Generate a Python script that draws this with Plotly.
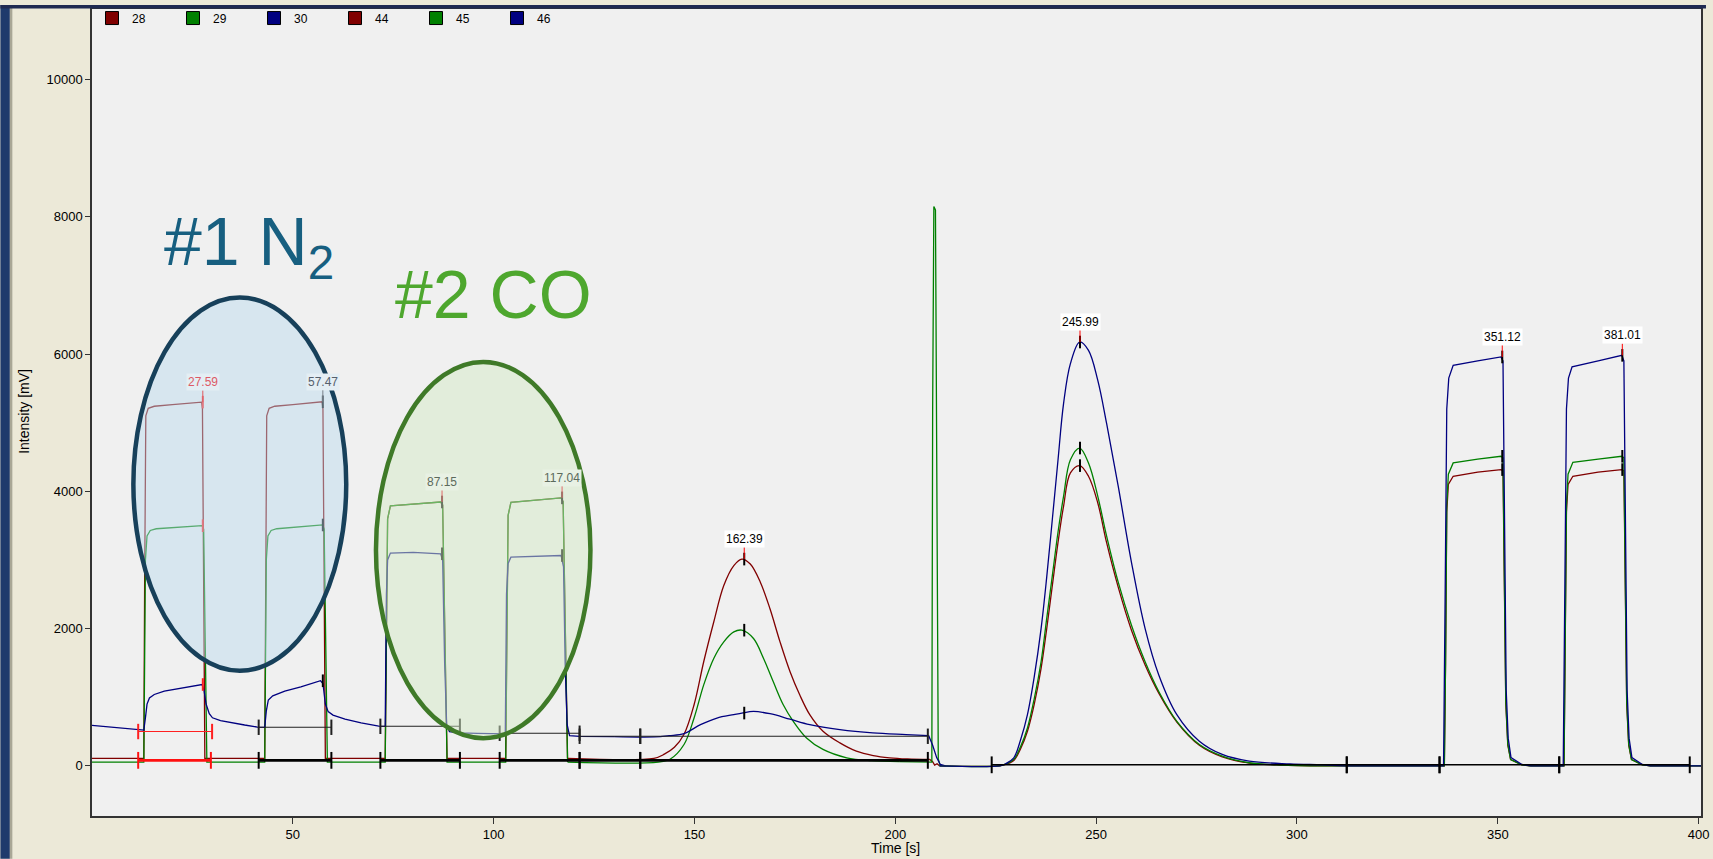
import plotly.graph_objects as go

# ---------------- data ----------------
# masses 28 / 29 / 30 (first part of the run)
t28 = [0, 12.9, 13.1, 13.4, 14.0, 15.5, 20, 27.3, 27.5, 27.8, 28.1, 43.0, 43.2, 43.5, 44.1, 45.5, 50,
       57.3, 57.5, 57.8, 58.1, 73.0, 73.3, 73.6, 74.3, 80, 86.8, 87.3, 87.8, 88.4, 103.0, 103.3, 103.6,
       104.3, 110, 116.8, 117.3, 117.8, 118.4, 139.9, 142.5, 145.0, 147.4, 149.9, 152.3, 154.8, 157.3,
       159.8, 161.8, 163.9, 166.4, 168.8, 171.3, 173.8, 176.2, 178.7, 182.0, 186.2, 190.3, 194.5, 198.6,
       203.0, 208.6, 209.3, 209.8, 210.4, 211.0]
v28 = [110, 110, 2600, 5100, 5210, 5240, 5265, 5300, 5200, 2000, 110, 110, 2600, 5100, 5210, 5240, 5265,
       5305, 5200, 2000, 110, 110, 2000, 3600, 3790, 3820, 3845, 3800, 2000, 110, 110, 2000, 3650,
       3840, 3870, 3905, 3850, 2000, 110, 110, 170, 270, 460, 890, 1517, 2096, 2628,
       2918, 3013, 2941, 2676, 2289, 1807, 1372, 1035, 746, 504, 334, 214, 150, 117,
       100, 92, 60, 10, 30, 0]

t29 = [0, 12.9, 13.1, 13.3, 13.7, 14.5, 16, 20, 27.4, 27.8, 28.2, 28.6, 43.0, 43.2, 43.4, 43.8, 44.6, 46,
       50, 57.4, 57.8, 58.2, 58.6, 73.0, 73.3, 73.6, 74.3, 80, 86.8, 87.3, 87.8, 88.4, 103.0, 103.3,
       103.6, 104.3, 110, 116.8, 117.3, 117.8, 118.4, 141.0, 144.0, 147.4, 149.9, 152.3, 154.8, 157.3,
       159.8, 161.8, 164.7, 167.2, 169.6, 172.1, 174.6, 177.9, 182.0, 187.9, 194.0, 201.0, 209.1, 209.3,
       209.6, 210.0, 210.3, 210.7, 211.2]
v29 = [55, 55, 1500, 3000, 3350, 3430, 3455, 3470, 3500, 3450, 1500, 55, 55, 1500, 3000, 3350, 3430, 3455,
       3475, 3510, 3450, 1500, 55, 55, 2000, 3600, 3790, 3820, 3845, 3800, 2000, 55, 55, 2000,
       3650, 3840, 3870, 3905, 3850, 2000, 55, 55, 100, 311, 697, 1180, 1565, 1807,
       1952, 1977, 1855, 1565, 1228, 890, 649, 407, 239, 117, 75, 60, 55, 5200,
       8150, 8100, 4500, 100, 0]

t30 = [0, 4, 8, 12.9, 13.3, 13.7, 14.3, 15.5, 18, 22, 27.4, 27.9, 28.4, 29.2, 30, 32, 35, 38, 41.2, 43.0,
       43.4, 43.9, 45, 48, 52, 56.9, 57.5, 58.1, 58.8, 60, 63, 67, 71.4, 73.0, 73.3, 73.6, 74.3, 80, 86.8,
       87.3, 87.8, 88.3, 89.0, 91.6, 96, 102.9, 103.2, 103.6, 104.3, 110, 116.8, 117.4, 117.8, 118.3, 118.9,
       121.4, 130, 140, 143.7, 147.4, 151.5, 155.6, 159.8, 161.8, 164.7, 168.8, 173.8, 178.7, 186.2, 194.4,
       202.7, 208.3, 209.3, 210.3, 211.2, 212.5]
v30 = [590, 565, 540, 520, 700, 900, 990, 1040, 1090, 1130, 1185, 1100, 900, 760, 700, 660, 625, 595, 565, 560,
       800, 960, 1020, 1090, 1150, 1240, 1200, 900, 790, 740, 680, 625, 580, 575, 2500, 3000, 3100, 3110, 3090,
       3000, 1500, 600, 500, 480, 472, 465, 2500, 2950, 3040, 3055, 3065, 2900, 1500, 600, 440,
       430, 425, 421, 440, 470, 601, 697, 746, 769, 793, 760, 680, 601, 528, 480,
       456, 441, 300, 120, 20, 0]

# masses 44 / 45 / 46 (second part of the run)
t44 = [211, 226.0, 227.5, 229.5, 231.2, 232.9, 234.6, 236.3, 237.7, 239.1, 240.5, 241.9, 243.6, 245.9, 248.1,
       250.4, 252.6, 255.5, 258.8, 262.2, 265.6, 270.1, 275.7, 281.4, 288.1, 295, 305, 336.7, 337.0, 337.3,
       337.7, 338.9, 345, 350.8, 351.3, 351.6, 352.0, 352.5, 353.2, 356, 358, 366.5, 366.8, 367.1, 367.5,
       368.7, 375, 380.9, 381.4, 381.7, 382.1, 382.6, 383.3, 386, 388, 400.6]
v44 = [0, 0, 20, 79, 250, 504, 900, 1421, 2000, 2628, 3250, 3786, 4268, 4375, 4220,
       3834, 3255, 2604, 1977, 1470, 1059, 639, 301, 132, 41, 15, 0, 0, 1500, 3700,
       4100, 4220, 4280, 4317, 4300, 2500, 900, 300, 90, 15, 0, 0, 1500, 3700, 4100,
       4220, 4280, 4317, 4300, 2500, 900, 300, 90, 15, 0, 0]

t45 = [211, 226.0, 227.5, 229.5, 231.2, 232.9, 234.6, 236.3, 237.7, 239.1, 240.5, 241.9, 243.6, 245.9, 248.1,
       250.4, 252.6, 255.5, 258.8, 262.2, 265.6, 270.1, 275.7, 281.4, 288.1, 295, 305, 336.7, 337.0, 337.3,
       337.7, 338.9, 345, 350.8, 351.3, 351.6, 352.0, 352.5, 353.2, 356, 358, 366.5, 366.8, 367.1, 367.5,
       368.7, 375, 380.9, 381.4, 381.7, 382.1, 382.6, 383.3, 386, 388, 400.6]
v45 = [0, 0, 25, 94, 280, 552, 980, 1517, 2150, 2773, 3400, 3931, 4461, 4631, 4414,
       3931, 3352, 2676, 2049, 1517, 1083, 649, 311, 142, 45, 15, 0, 0, 1500, 3800,
       4250, 4414, 4470, 4511, 4490, 2600, 950, 320, 90, 15, 0, 0, 1500, 3800, 4250,
       4424, 4470, 4511, 4490, 2600, 950, 320, 90, 15, 0, 0]

t46 = [211, 226.0, 227.5, 229.5, 231.2, 232.9, 234.6, 236.3, 237.7, 239.1, 240.5, 241.9, 243.6, 245.9, 248.1,
       250.4, 252.6, 255.5, 258.8, 262.2, 265.6, 270.1, 275.7, 281.4, 288.1, 298.3, 306.2, 312, 336.5, 336.9,
       337.3, 337.8, 338.9, 345, 350.8, 351.3, 351.7, 352.1, 352.6, 353.3, 356, 358.3, 366.3, 366.7, 367.1,
       367.6, 368.5, 375, 380.9, 381.4, 381.8, 382.2, 382.7, 383.4, 386, 388, 400.6]
v46 = [0, 0, 30, 117, 380, 746, 1300, 2000, 2750, 3593, 4450, 5282, 5861, 6176, 6054,
       5620, 4993, 4076, 2966, 2000, 1325, 746, 359, 166, 69, 28, 15, 0, 0, 2500,
       5200, 5650, 5837, 5900, 5958, 5900, 3000, 1100, 400, 120, 20, 0, 0, 2500, 5200,
       5650, 5815, 5900, 5982, 5900, 3000, 1100, 400, 120, 20, 0, 0]

series_names = ["28", "29", "30", "44", "45", "46"]

# integration baselines
bl_upper_t0 = [11.5, 41.5, 71.8, 101.5, 121.4, 136.5]
bl_upper_t1 = [29.9, 59.6, 91.6, 121.4, 136.5, 208.1]
bl_upper_v = [500, 562, 576, 475, 431, 431]
bl_lower_t0 = [11.5, 41.5, 71.8, 101.5, 121.4, 136.5, 224.0, 312.4, 335.5, 365.3]
bl_lower_t1 = [29.6, 59.6, 91.6, 121.4, 136.5, 208.1, 312.4, 335.5, 365.3, 397.8]
bl_lower_v = [80, 80, 80, 80, 80, 80, 15, 15, 15, 15]

# peaks
pk_t = [27.59, 57.47, 87.15, 117.04, 162.39, 245.99, 351.12, 381.01]
pk_lbl = ["27.59", "57.47", "87.15", "117.04", "162.39", "245.99", "351.12", "381.01"]
pk_top = [5300, 5305, 3845, 3905, 3013, 6176, 5958, 5982]
pk_red = [5300, 5305, None, None, 3013, 4375, 4317, 4317]
pk_green = [3500, 3510, 3845, 3905, 1977, 4631, 4511, 4511]
pk_blue = [1185, 1240, 3090, 3065, 769, 6176, 5958, 5982]

# time windows holding smooth (gaussian-like) peaks -> drawn as splines
smooth_windows = [(139.0, 209.0), (225.5, 313.0)]

# ---------------- styling ----------------
RED, GREEN, BLUE = "#800000", "#008000", "#000080"
FONT = "Liberation Sans, Arial, sans-serif"
W, H = 1713, 859
L, R, T, B = 92, 5, 4, 43
PW, PH = W - L - R, H - T - B


def px2x(px):
    return (px - L) / PW


def px2y(py):
    return (H - B - py) / PH


def in_smooth(x):
    return any(a <= x <= b for a, b in smooth_windows)


def split_runs(tt, vv):
    runs = []
    xs, ys, st = [tt[0]], [vv[0]], in_smooth(tt[0])
    for x, y in zip(tt[1:], vv[1:]):
        s = in_smooth(x)
        if s != st:
            runs.append((xs, ys, st))
            xs, ys, st = [xs[-1]], [ys[-1]], s
        xs.append(x)
        ys.append(y)
    runs.append((xs, ys, st))
    return runs


fig = go.Figure()

curves = [(t28, v28, RED), (t29, v29, GREEN), (t30, v30, BLUE),
          (t44, v44, RED), (t45, v45, GREEN), (t46, v46, BLUE)]
for (tt, vv, c), nm in zip(curves, series_names):
    for xs, ys, smooth in split_runs(tt, vv):
        line = dict(color=c, width=1.3)
        if smooth:
            line.update(shape="spline", smoothing=1.0)
        fig.add_trace(go.Scatter(x=xs, y=ys, mode="lines", line=line,
                                 showlegend=False, hoverinfo="skip", name=nm))

# baselines (segments + end ticks)
for i, (a, b, v) in enumerate(zip(bl_upper_t0, bl_upper_t1, bl_upper_v)):
    col = "#ff2020" if i == 0 else "#202020"
    fig.add_trace(go.Scatter(x=[a, b], y=[v, v], mode="lines+markers",
                             line=dict(color=col, width=1.1),
                             marker=dict(symbol="line-ns", size=11, line=dict(color=col, width=2)),
                             showlegend=False, hoverinfo="skip"))
for i, (a, b, v) in enumerate(zip(bl_lower_t0, bl_lower_t1, bl_lower_v)):
    col = "#ff1010" if i == 0 else "#000000"
    wid = 2.6 if i < 6 else 1.4
    fig.add_trace(go.Scatter(x=[a, b], y=[v, v], mode="lines+markers",
                             line=dict(color=col, width=wid),
                             marker=dict(symbol="line-ns", size=12, line=dict(color=col, width=2)),
                             showlegend=False, hoverinfo="skip"))

# peak tick markers on each curve
pk_cols = ["#ff2020"] + ["#000000"] * 7
for vals in (pk_red, pk_green, pk_blue):
    fig.add_trace(go.Scatter(x=pk_t, y=vals, mode="markers",
                             marker=dict(symbol="line-ns", size=9,
                                         line=dict(color=pk_cols, width=2)),
                             showlegend=False, hoverinfo="skip"))

# legend entries
for nm, c in zip(series_names, [RED, GREEN, BLUE, RED, GREEN, BLUE]):
    fig.add_trace(go.Scatter(x=[None], y=[None], mode="markers", name=nm,
                             marker=dict(symbol="square", size=13, color=c,
                                         line=dict(color="black", width=1))))

shapes = [
    # highlight ellipses
    dict(type="circle", xref="x", yref="y", x0=10.3, x1=63.3, y0=1385, y1=6825, layer="above",
         fillcolor="rgba(186,218,238,0.47)", line=dict(color="#17405a", width=4.5)),
    dict(type="circle", xref="x", yref="y", x0=70.7, x1=124.1, y0=403, y1=5886, layer="above",
         fillcolor="rgba(212,234,198,0.5)", line=dict(color="#3f7a28", width=4.5)),
    # window frame
    dict(type="rect", xref="paper", yref="paper", x0=px2x(0), x1=px2x(9.5), y0=px2y(H), y1=px2y(0),
         fillcolor="#1e3a6c", line=dict(width=0), layer="above"),
    dict(type="rect", xref="paper", yref="paper", x0=px2x(9.5), x1=px2x(12), y0=px2y(H), y1=px2y(0),
         fillcolor="#a9a796", line=dict(width=0), layer="above"),
    dict(type="rect", xref="paper", yref="paper", x0=px2x(0), x1=px2x(W), y0=px2y(3.5), y1=px2y(0),
         fillcolor="#1f2a52", line=dict(width=0), layer="above"),
]

annotations = []
lbl_colors = ["#dd5a66", "#55606c", "#5c6a5c", "#5c6a5c", "black", "black", "black", "black"]
lbl_bg = ["#e4eef4", "#e4eef4", "#e8f1e4", "#e8f1e4", "white", "white", "white", "white"]
arrow_cols = ["#e05a60", "#7a8088", "#e06a6a", "#e06a6a", "#ff0000", "#ff0000", "#ff0000", "#ff0000"]
for t, top, lbl, fc, bg, ac in zip(pk_t, pk_top, pk_lbl, lbl_colors, lbl_bg, arrow_cols):
    annotations.append(dict(x=t, y=top, xref="x", yref="y", text=lbl, showarrow=True,
                            arrowhead=0, arrowwidth=1, arrowcolor=ac, ax=0, ay=-20, standoff=0,
                            font=dict(family=FONT, size=12, color=fc), bgcolor=bg, borderpad=1))

annotations += [
    dict(x=px2x(23), y=px2y(409), xref="paper", yref="paper", text="Intensity [mV]", textangle=-90,
         showarrow=False, font=dict(family=FONT, size=14, color="black"), xanchor="center", yanchor="middle"),
    dict(x=px2x(899), y=px2y(848), xref="paper", yref="paper", text="Time [s]",
         showarrow=False, font=dict(family=FONT, size=14, color="black"), xanchor="center", yanchor="middle"),
    dict(x=px2x(162), y=px2y(242), xref="paper", yref="paper", text="#1 N<sub>2</sub>",
         showarrow=False, font=dict(family=FONT, size=68, color="#175f80"), xanchor="left", yanchor="middle"),
    dict(x=px2x(394), y=px2y(291), xref="paper", yref="paper", text="#2 CO",
         showarrow=False, font=dict(family=FONT, size=68, color="#4ea72e"), xanchor="left", yanchor="middle"),
]

axis_common = dict(showgrid=False, zeroline=False, showline=True, linecolor="#333333", linewidth=1.5,
                   mirror=True, ticks="outside", tickcolor="#333333", tickwidth=1,
                   ticklabeloverflow="allow",
                   tickfont=dict(family=FONT, size=13, color="black"))

fig.update_layout(
    width=W, height=H,
    margin=dict(l=L, r=R, t=T, b=B),
    paper_bgcolor="#ece9d8", plot_bgcolor="#f0f0f0",
    xaxis=dict(range=[0, 400.6], tickvals=[50, 100, 150, 200, 250, 300, 350, 400], ticklen=6,
               tickformat="d", **axis_common),
    yaxis=dict(range=[-731, 11029], tickvals=[0, 2000, 4000, 6000, 8000, 10000], ticklen=5,
               tickformat="d", **axis_common),
    legend=dict(orientation="h", x=0, y=1 + 5.5 / PH, xanchor="left", yanchor="top",
                bgcolor="rgba(0,0,0,0)",
                font=dict(family=FONT, size=12, color="black"), entrywidth=36, entrywidthmode="pixels",
                itemwidth=30, tracegroupgap=0, itemclick=False, itemdoubleclick=False),
    shapes=shapes, annotations=annotations, hovermode=False,
)

fig.write_html("out.html")
